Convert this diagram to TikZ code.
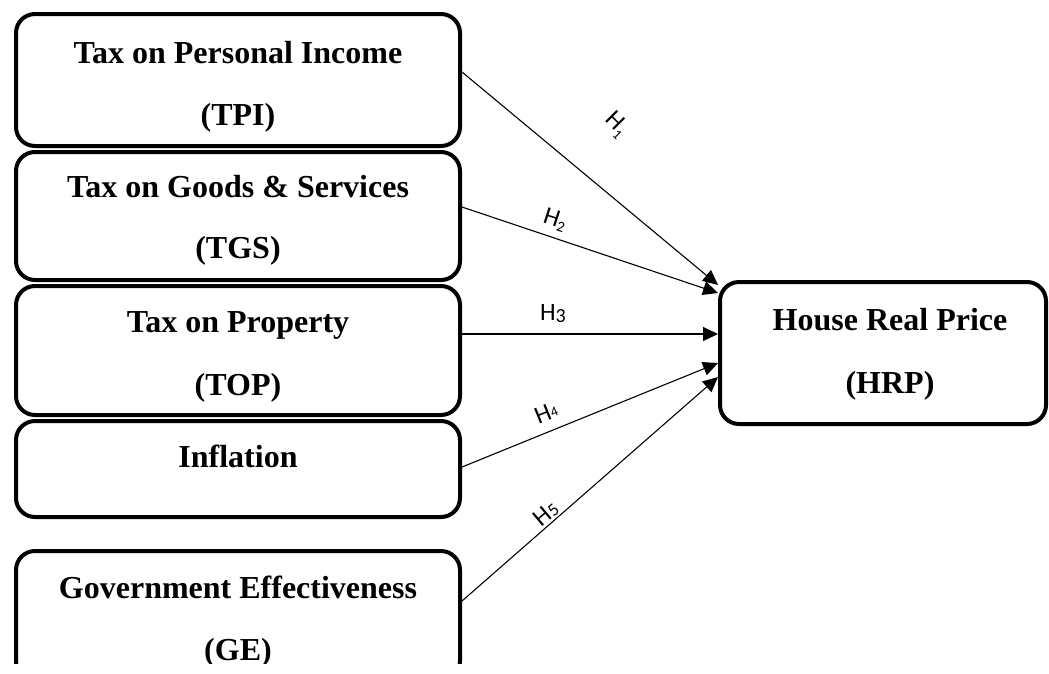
\documentclass[tikz,border=0pt]{standalone}
\usepackage{fontspec}
\setmainfont{Liberation Serif}
\newfontfamily\lblfont{Carlito}
\usetikzlibrary{arrows.meta}
\newcommand\hsub[3]{\raisebox{#3}{\fontsize{#2}{#2}\selectfont #1}}
\begin{document}
\begin{tikzpicture}[x=1pt,y=-1pt,
  box/.style={draw, line width=4pt, rounded corners=19pt, inner sep=0pt, outer sep=2pt},
  btxt/.style={font=\fontsize{32}{38}\selectfont\bfseries, anchor=base, inner sep=0pt},
  hl/.style={font=\lblfont\fontsize{25}{28}\selectfont, inner sep=0pt},
  arr/.style={line width=1.1pt, -{Triangle[length=15pt,width=14pt]}}]
\useasboundingbox (0,0) rectangle (1049,673);
\begin{scope}
\clip (0,0) rectangle (1049,663);
% boxes
\node[box, minimum width=444pt, minimum height=132pt] (tpi) at (238,80) {};
\node[box, minimum width=444pt, minimum height=128pt] (tgs) at (238,216) {};
\node[box, minimum width=444pt, minimum height=129pt] (top) at (238,350.5) {};
\node[box, minimum width=444pt, minimum height=96pt] (inf) at (238,469) {};
\node[box, minimum width=444pt, minimum height=129pt] (ge) at (238,615.5) {};
\node[box, minimum width=326pt, minimum height=142pt] (hrp) at (883,353) {};
% texts
\node[btxt] (tpia) at (238,63) {Tax on Personal Income};
\node[btxt] (tpib) at (238,125) {(TPI)};
\node[btxt] (tgsa) at (238,197) {Tax on Goods \& Services};
\node[btxt] (tgsb) at (238,258) {(TGS)};
\node[btxt] (topa) at (238,332) {Tax on Property};
\node[btxt] (topb) at (238,395) {(TOP)};
\node[btxt] (infa) at (238,467) {Inflation};
\node[btxt] (gea) at (238,598) {Government Effectiveness};
\node[btxt] (geb) at (238,660) {(GE)};
\node[btxt] (hrpa) at (890,330) {House Real Price};
\node[btxt] (hrpb) at (890,393) {(HRP)};
% arrows
\draw[arr] ([yshift=8pt]tpi.east) -- ([yshift=68pt]hrp.west);
\draw[arr] ([yshift=9pt]tgs.east) -- ([yshift=60pt]hrp.west);
\draw[arr] ([yshift=16.5pt]top.east) -- ([yshift=19pt]hrp.west);
\draw[arr] ([yshift=2pt]inf.east) -- ([yshift=-10pt]hrp.west);
\draw[arr] ([yshift=14.5pt]ge.east) -- ([yshift=-24pt]hrp.west);
% labels
\node[hl, rotate=-45] (h1) at (616,125) {H\hsub{1}{14}{-5pt}};
\node[hl, rotate=-18] (h2) at (555,220) {H\hsub{2}{15}{-4pt}};
\node[hl] (h3) at (553,314) {H\hsub{3}{20}{-2pt}};
\node[hl, rotate=22] (h4) at (546,413) {H\hsub{4}{14}{1pt}};
\node[hl, rotate=40] (h5) at (546,513) {H\hsub{5}{18}{0pt}};
\end{scope}
\end{tikzpicture}
\end{document}
